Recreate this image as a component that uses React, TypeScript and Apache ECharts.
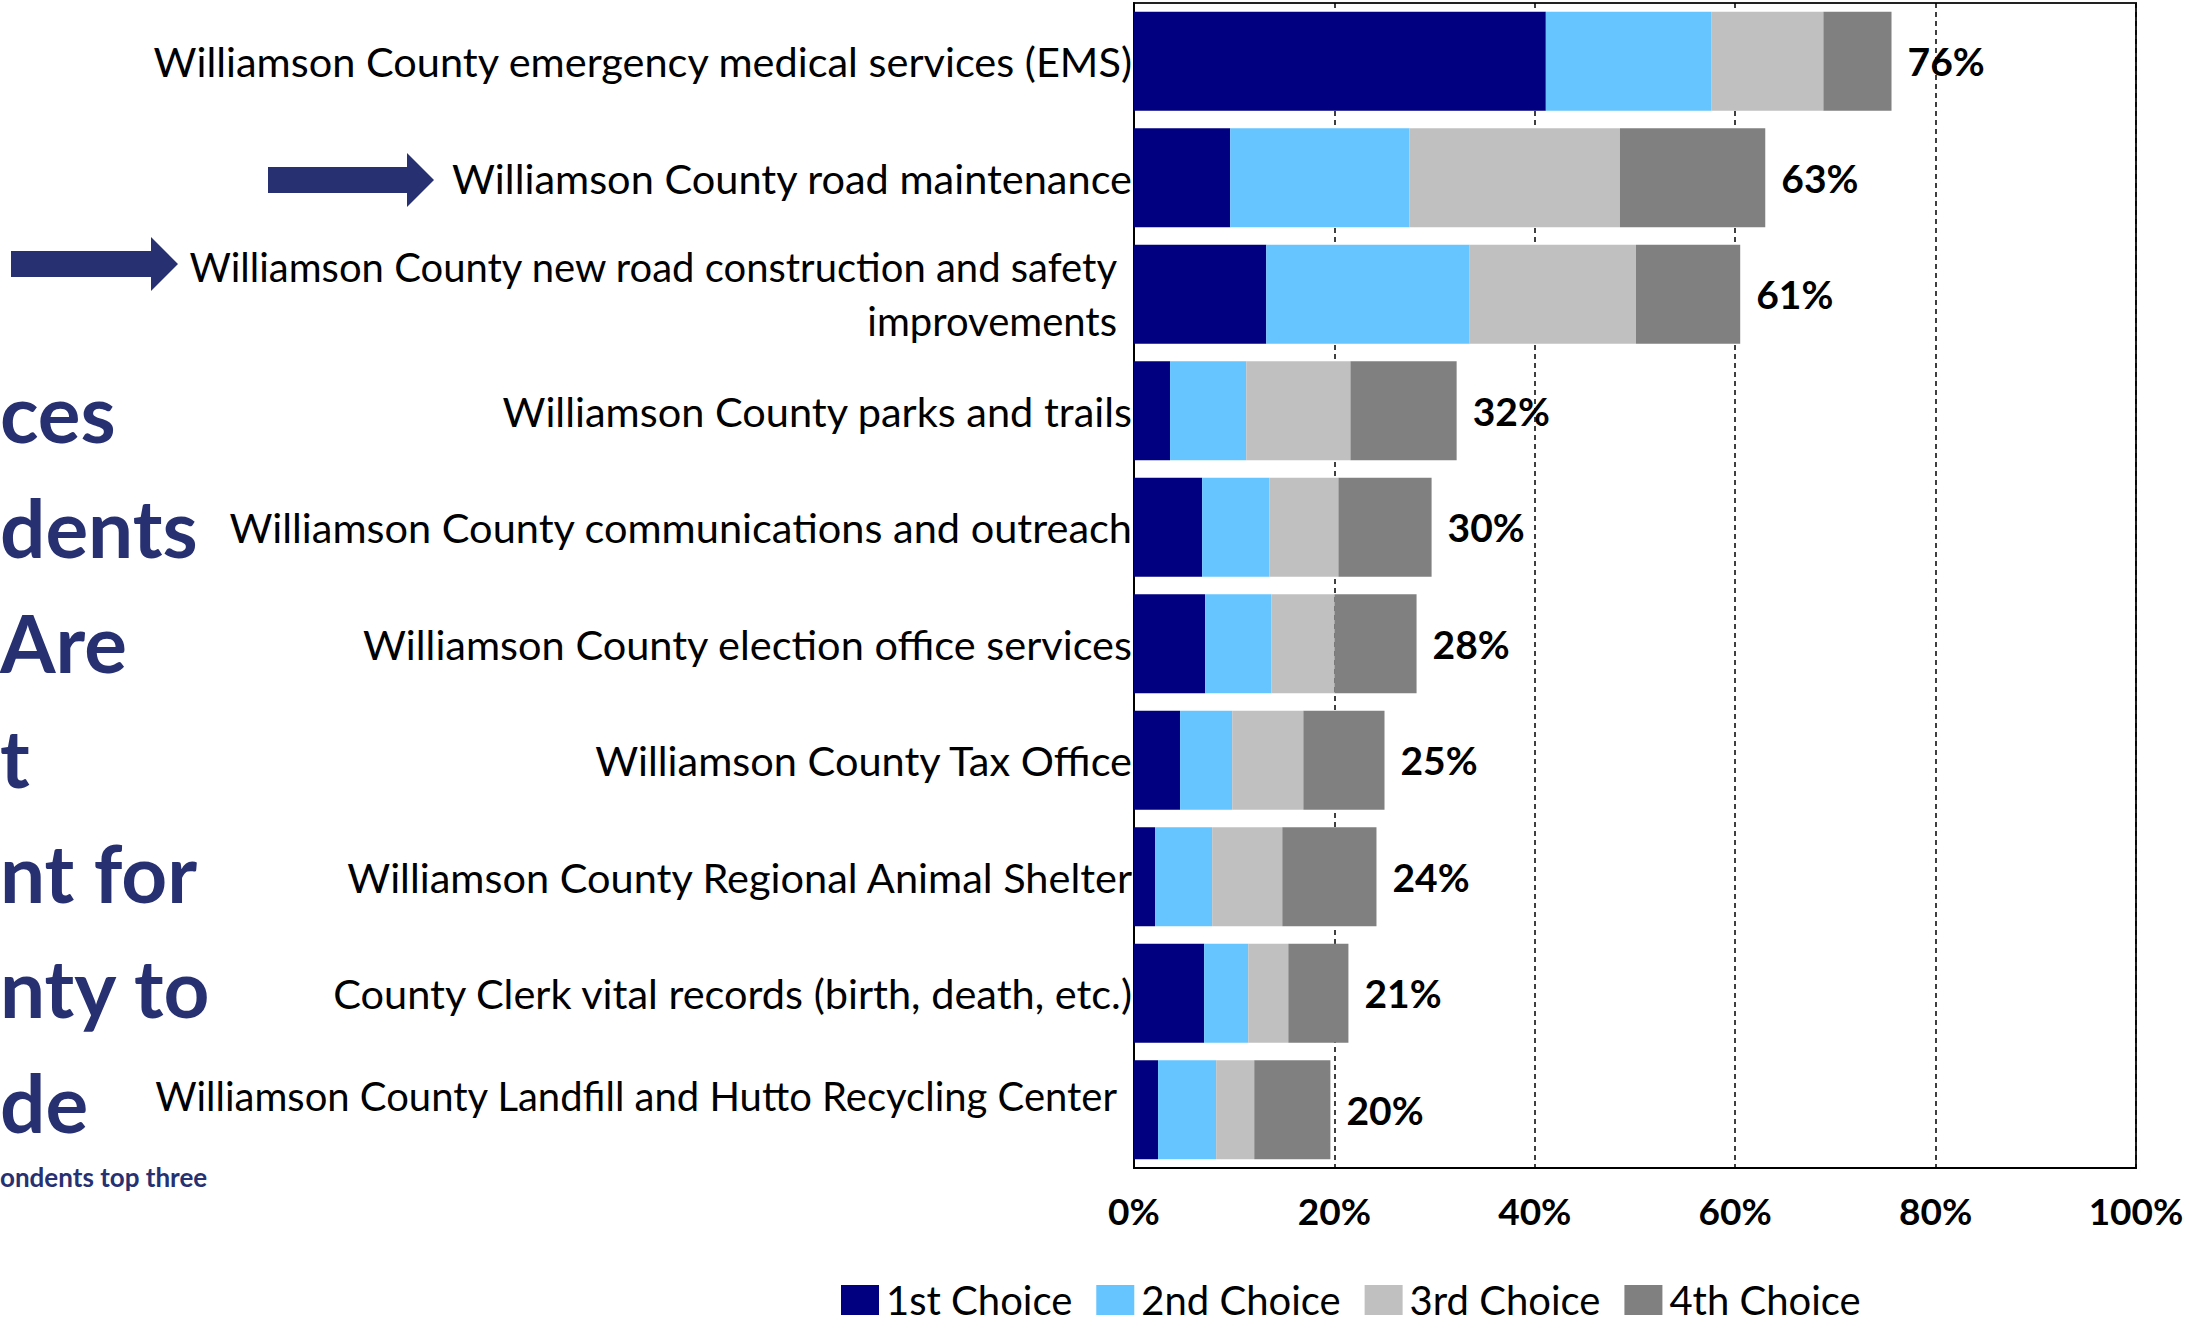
import React, { useEffect, useRef } from "react";
import * as echarts from "echarts";

const categories = [
  "Williamson County emergency medical services (EMS)",
  "Williamson County road maintenance",
  "Williamson County new road construction and safety\nimprovements",
  "Williamson County parks and trails",
  "Williamson County communications and outreach",
  "Williamson County election office services",
  "Williamson County Tax Office",
  "Williamson County Regional Animal Shelter",
  "County Clerk vital records (birth, death, etc.)",
  "Williamson County Landfill and Hutto Recycling Center",
];
const seriesNames = ["1st Choice", "2nd Choice", "3rd Choice", "4th Choice"];
const first = [41.1, 9.6, 13.2, 3.6, 6.8, 7.1, 4.6, 2.1, 7.0, 2.4];
const second = [16.5, 17.9, 20.3, 7.6, 6.7, 6.6, 5.2, 5.7, 4.4, 5.8];
const third = [11.2, 21.0, 16.6, 10.4, 6.9, 6.3, 7.1, 7.0, 4.0, 3.8];
const fourth = [6.8, 14.5, 10.4, 10.6, 9.3, 8.2, 8.1, 9.4, 6.0, 7.6];
const totals = [76, 63, 61, 32, 30, 28, 25, 24, 21, 20];
const colors = ["#000080", "#66C4FF", "#C0C0C0", "#808080"];
const titleLines = ["ces", "dents", "Are", "t", "nt for", "nty to", "de"];
const footnote = "ondents top three";

const NAVY = "#273172";
const FONT = "Lato";
const LABEL_SIZE = 41.5;
const WRAP_SIZE = 40;

export default function App() {
  const ref = useRef<HTMLDivElement>(null);
  useEffect(() => {
    document.body.style.margin = "0";
    const chart = echarts.init(ref.current!, null, { renderer: "svg" });
    const values = [first, second, third, fourth];
    const series = values.map((d, i) => ({
      name: seriesNames[i],
      type: "bar",
      stack: "total",
      barCategoryGap: "15%",
      itemStyle: { color: colors[i] },
      data: d,
      label:
        i === 3
          ? {
              show: true,
              position: "right",
              distance: 16,
              formatter: (p: any) => totals[p.dataIndex] + "%",
              color: "#000",
              fontWeight: "bold",
              fontSize: 39,
              fontFamily: FONT,
            }
          : { show: false },
    }));
    const graphic: any[] = titleLines.map((t, i) => ({
      type: "text",
      x: 0,
      y: 412 + i * 115,
      style: {
        text: t,
        fill: NAVY,
        fontSize: 80,
        fontWeight: "bold",
        fontFamily: FONT,
        verticalAlign: "middle",
      },
    }));
    graphic.push({
      type: "text",
      x: 0,
      y: 1177,
      style: {
        text: footnote,
        fill: NAVY,
        fontSize: 26,
        fontWeight: "bold",
        fontFamily: FONT,
        verticalAlign: "middle",
      },
    });
    graphic.push({
      type: "polygon",
      shape: {
        points: [
          [268, 167],
          [407, 167],
          [407, 153],
          [434, 180],
          [407, 207],
          [407, 193],
          [268, 193],
        ],
      },
      style: { fill: NAVY },
    });
    graphic.push({
      type: "polygon",
      shape: {
        points: [
          [11, 251],
          [151, 251],
          [151, 237],
          [178, 264],
          [151, 291],
          [151, 277],
          [11, 277],
        ],
      },
      style: { fill: NAVY },
    });

    chart.setOption({
      animation: false,
      grid: {
        left: 1134,
        right: 54,
        top: 3,
        bottom: 157,
        show: true,
        borderColor: "#222",
        borderWidth: 2,
        backgroundColor: "transparent",
      },
      legend: {
        data: seriesNames,
        left: 836,
        top: 1275,
        icon: "rect",
        itemWidth: 38,
        itemHeight: 30,
        itemGap: 24,
        textStyle: {
          color: "#000",
          fontSize: 40,
          lineHeight: 40,
          fontFamily: FONT,
          padding: [0, 0, 0, 2],
        },
      },
      xAxis: {
        type: "value",
        min: 0,
        max: 100,
        interval: 20,
        axisLine: { show: true, lineStyle: { color: "#000", width: 2 } },
        axisTick: { show: false },
        axisLabel: {
          formatter: "{value}%",
          color: "#000",
          fontWeight: "bold",
          fontSize: 37,
          fontFamily: FONT,
          margin: 24,
        },
        splitLine: {
          show: true,
          lineStyle: { color: "#000", width: 1.5, type: [5, 4] },
        },
      },
      yAxis: {
        type: "category",
        data: categories,
        inverse: true,
        axisLine: { show: true, lineStyle: { color: "#000", width: 2 } },
        axisTick: { show: false },
        axisLabel: {
          color: "#000",
          fontSize: LABEL_SIZE,
          fontFamily: FONT,
          margin: 2,
          formatter: (v: string, i: number) => {
            if (i === 2) return v.split("\n").map((s) => `{w|${s}}`).join("\n");
            if (i === 9) return `{u|${v}}`;
            return v;
          },
          rich: {
            w: {
              color: "#000",
              fontSize: WRAP_SIZE,
              fontFamily: FONT,
              lineHeight: 54,
              padding: [0, 15, 0, 0],
            },
            u: {
              color: "#000",
              fontSize: WRAP_SIZE,
              fontFamily: FONT,
              padding: [0, 15, 28, 0],
            },
          },
        },
      },
      graphic,
      series,
    });
    return () => chart.dispose();
  }, []);
  return <div ref={ref} style={{ width: 2190, height: 1325, overflow: "hidden" }} />;
}
